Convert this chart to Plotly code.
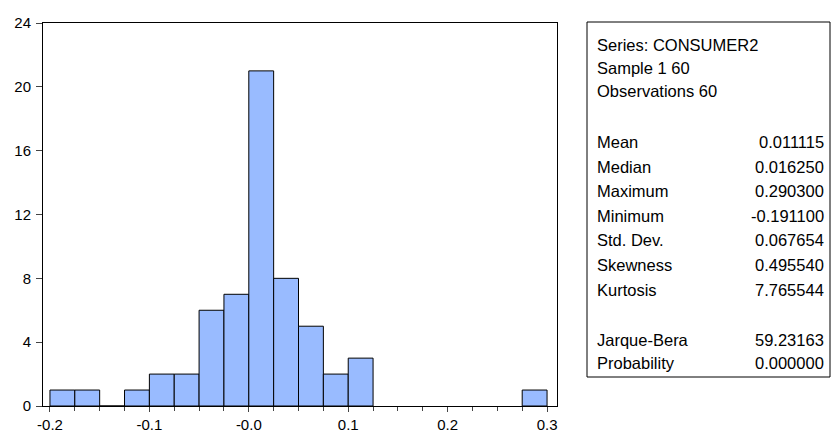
import plotly.graph_objects as go

bin_centers = [-0.1875,-0.1625,-0.1375,-0.1125,-0.0875,-0.0625,-0.0375,-0.0125,0.0125,0.0375,0.0625,0.0875,0.1125,0.2875]
counts = [1,1,0,1,2,2,6,7,21,8,5,2,3,1]
header = ["Series: CONSUMER2","Sample 1 60","Observations 60"]
stat_names = ["Mean","Median","Maximum","Minimum","Std. Dev.","Skewness","Kurtosis"]
stat_vals = ["0.011115","0.016250","0.290300","-0.191100","0.067654","0.495540","7.765544"]
jb_names = ["Jarque-Bera","Probability"]
jb_vals = ["59.23163","0.000000"]

W, H = 831, 434
L, R, T, B = 43, 557, 23, 406
def px(x): return (x-L)/(R-L)
def py(y): return (B-y)/(B-T)

fig = go.Figure(go.Bar(x=bin_centers, y=counts, width=0.025,
    marker=dict(color="#99BBFF", line=dict(color="black", width=1))))
fig.update_layout(width=W, height=H, margin=dict(l=L, r=W-R, t=T, b=H-B, autoexpand=False),
    plot_bgcolor="white", paper_bgcolor="white", showlegend=False,
    font=dict(family="Liberation Sans, Arial", size=15, color="black"))
fig.update_xaxes(range=[-0.207,0.310], tickvals=[-0.2,-0.1,0,0.1,0.2,0.3],
    ticktext=["-0.2","-0.1","-0.0","0.1","0.2","0.3"], ticks="outside", ticklen=5,
    showgrid=False, showline=True, linecolor="black", mirror=True, zeroline=False,
    minor=dict(dtick=0.025, ticks="outside", ticklen=4), tickfont=dict(size=15))
fig.update_yaxes(range=[0,24], tickvals=[0,4,8,12,16,20,24], ticks="outside", ticklen=6,
    showgrid=False, showline=True, linecolor="black", mirror=True, zeroline=False,
    tickfont=dict(size=15), ticklabelstandoff=2)
fig.add_shape(type="rect", xref="paper", yref="paper", x0=px(587), x1=px(830), y0=py(377), y1=py(22),
    line=dict(color="black", width=1), fillcolor="rgba(0,0,0,0)")
ann = []
def add(text, x, y, anchor):
    ann.append(dict(text=text, x=px(x), y=py(y), xref="paper", yref="paper",
        xanchor=anchor, yanchor="middle", showarrow=False, font=dict(size=16.5)))
for i, t in enumerate(header):
    add(t, 595, 45+i*23, "left")
for i, (n, v) in enumerate(zip(stat_names, stat_vals)):
    add(n, 595, 142+i*24.6, "left"); add(v, 826, 142+i*24.6, "right")
for i, (n, v) in enumerate(zip(jb_names, jb_vals)):
    add(n, 595, 340+i*23, "left"); add(v, 826, 340+i*23, "right")
fig.update_layout(annotations=ann)
fig.write_html("out.html", config={"displayModeBar": False})
with open("out.html", encoding="utf-8") as f:
    html = f.read()
html = html.replace("<head>", "<head><style>html,body{margin:0;padding:0;overflow:hidden}</style>", 1)
with open("out.html", "w", encoding="utf-8") as f:
    f.write(html)
